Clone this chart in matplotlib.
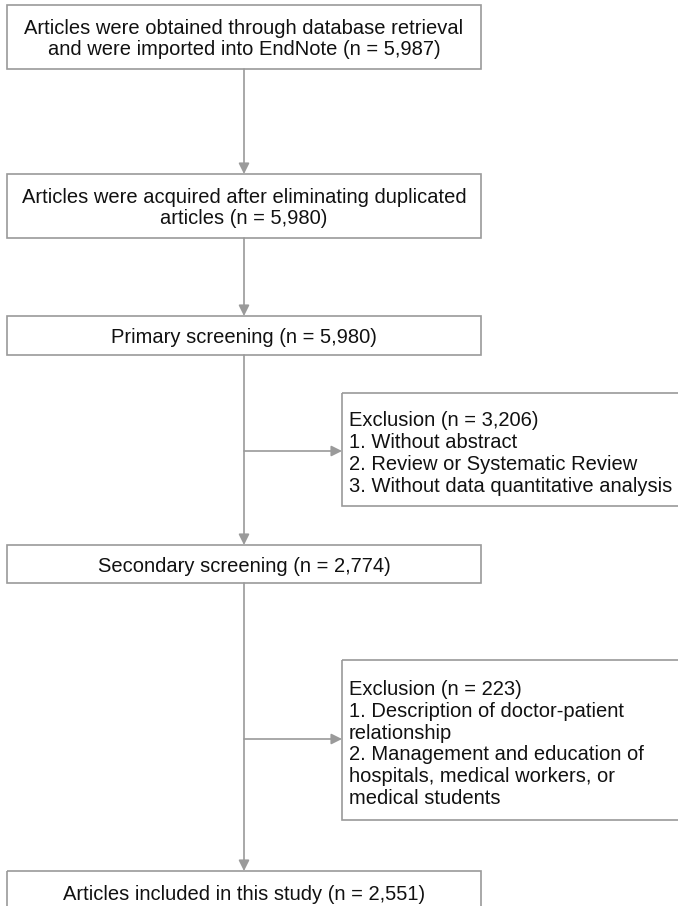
import matplotlib
matplotlib.use('Agg')
from matplotlib import pyplot as plt
from matplotlib.patches import Rectangle

plt.rcParams['font.family'] = ['Liberation Sans', 'DejaVu Sans']

# box texts
main_texts = [
    "Articles were obtained through database retrieval\nand were imported into EndNote (n = 5,987)",
    "Articles were acquired after eliminating duplicated\narticles (n = 5,980)",
    "Primary screening (n = 5,980)",
    "Secondary screening (n = 2,774)",
    "Articles included in this study (n = 2,551)",
]
excl_texts = [
    "Exclusion (n = 3,206)\n1. Without abstract\n2. Review or Systematic Review\n3. Without data quantitative analysis",
    "Exclusion (n = 223)\n1. Description of doctor-patient\nrelationship\n2. Management and education of\nhospitals, medical workers, or\nmedical students",
]

# layout in pixels (top, bottom)
main_y = [(5, 69), (174, 238), (316, 355), (545, 583), (871, 920)]
main_x = (7, 481)
excl_y = [(393, 506), (660, 820)]
excl_x = (342, 690)
branch_y = [451, 739]

grey = '#9a9a9a'
fs = 14.5
ls = 1.18

fig = plt.figure(figsize=(6.78, 9.06), dpi=100)
ax = fig.add_axes([0, 0, 1, 1])
ax.set_xlim(0, 678)
ax.set_ylim(906, 0)
ax.axis('off')

cx = (main_x[0] + main_x[1]) / 2

for txt, (t, b) in zip(main_texts, main_y):
    ax.add_patch(Rectangle((main_x[0], t), main_x[1] - main_x[0], b - t,
                           fill=False, ec=grey, lw=1.2))
    yc = (t + b) / 2 + 2 if b < 906 else t + 24
    ax.text(cx, yc, txt, ha='center', va='center', fontsize=fs,
            linespacing=ls, color='#111111')

for txt, (t, b) in zip(excl_texts, excl_y):
    ax.add_patch(Rectangle((excl_x[0], t), excl_x[1] - excl_x[0], b - t,
                           fill=False, ec=grey, lw=1.2))
    ax.text(excl_x[0] + 7, (t + b) / 2 + 4, txt, ha='left', va='center',
            fontsize=fs, linespacing=ls, color='#111111')

arrow = dict(arrowstyle='-|>', color=grey, lw=1.2, mutation_scale=16,
             shrinkA=0, shrinkB=0)

# vertical connections
for (t0, b0), (t1, b1) in zip(main_y[:-1], main_y[1:]):
    ax.annotate('', xy=(cx, t1), xytext=(cx, b0), arrowprops=arrow)

# branches to exclusion boxes
for y in branch_y:
    ax.annotate('', xy=(excl_x[0], y), xytext=(cx, y), arrowprops=arrow)

plt.savefig('out.png', dpi=100)
